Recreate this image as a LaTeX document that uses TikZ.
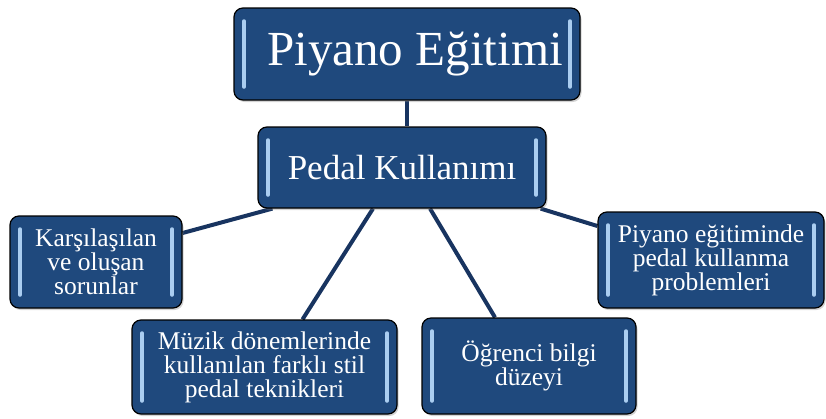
\documentclass[tikz,border=0pt]{standalone}
\usepackage{fontspec}
\setmainfont{Liberation Serif}
\usepackage{tikz}
\usetikzlibrary{shapes,positioning,shadows,backgrounds}
\definecolor{boxblue}{RGB}{31,73,125}
\definecolor{glowblue}{RGB}{170,205,240}
\definecolor{linkblue}{RGB}{24,52,96}
\tikzstyle{topic}=[draw=black,line width=1.2pt,fill=boxblue,rounded corners=9pt,
  text=white,align=center,inner sep=0pt,
  drop shadow={opacity=0.35,shadow xshift=1.5pt,shadow yshift=-2pt},
  path picture={
    \draw[glowblue,line width=3.5pt,line cap=round]
      ([xshift=10pt,yshift=-13pt]path picture bounding box.north west) --
      ([xshift=10pt,yshift=13pt]path picture bounding box.south west);
    \draw[glowblue,line width=3.5pt,line cap=round]
      ([xshift=-10pt,yshift=-13pt]path picture bounding box.north east) --
      ([xshift=-10pt,yshift=13pt]path picture bounding box.south east);
  }]
\tikzstyle{small topic}=[topic,font=\fontsize{25.5}{24}\selectfont]
\tikzstyle{link}=[draw=linkblue,line width=4pt]

\begin{document}
\begin{tikzpicture}[x=1pt,y=-1pt]
  \useasboundingbox (0,0) rectangle (826,418);
  % main topics
  \node [topic,minimum width=346pt,minimum height=92pt,
    font=\fontsize{49}{50}\selectfont] (egitim) at (407,54) {\hspace*{16pt}Piyano Eğitimi};
  \node [topic,minimum width=288pt,minimum height=81pt,
    font=\fontsize{35}{36}\selectfont] (pedal) at (402,167.5) {Pedal Kullanımı};
  % sub topics
  \node [small topic,minimum width=172pt,minimum height=92pt] (sorun) at (96,262)
    {Karşılaşılan\\ve oluşan\\sorunlar};
  \node [small topic,minimum width=226pt,minimum height=96pt] (problem) at (711,260)
    {Piyano eğitiminde\\pedal kullanma\\problemleri};
  \node [small topic,minimum width=265pt,minimum height=94pt] (teknik) at (264.5,367)
    {Müzik dönemlerinde\\kullanılan farklı stil\\pedal teknikleri};
  \node [small topic,minimum width=214pt,minimum height=96pt] (duzey) at (529,366)
    {Öğrenci bilgi\\düzeyi};
  % links
  \begin{scope}[on background layer]
    \draw [link] (egitim.south) -- (egitim.south |- pedal.north);
    \draw [link] ([xshift=15pt]pedal.south west) -- ([yshift=29pt]sorun.east);
    \draw [link] ([xshift=-29pt]pedal.south) -- ([xshift=38pt]teknik.north);
    \draw [link] ([xshift=28pt]pedal.south) -- ([xshift=-34pt]duzey.north);
    \draw [link] ([xshift=-6pt]pedal.south east) -- ([yshift=34pt]problem.west);
  \end{scope}
\end{tikzpicture}
\end{document}
